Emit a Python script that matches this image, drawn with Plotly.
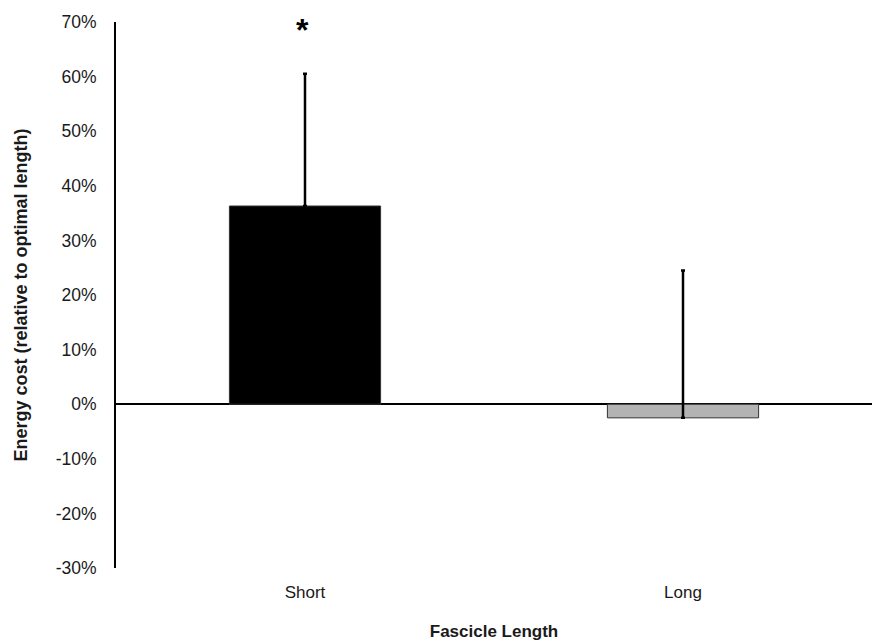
import plotly.graph_objects as go

categories = ["Short", "Long"]
values = [36.3, -2.5]
err_plus = [24.2, 27.0]
err_minus = [0, 0]
colors = ["#000000", "#b3b3b3"]
y_ticks = [-30, -20, -10, 0, 10, 20, 30, 40, 50, 60, 70]
y_ticklabels = [f"{v}%" for v in y_ticks]

fig = go.Figure()
fig.add_trace(go.Bar(
    x=categories, y=values, width=0.4,
    marker=dict(color=colors, line=dict(color="#333333", width=1)),
    error_y=dict(type="data", symmetric=False, array=err_plus, arrayminus=err_minus,
                 color="black", thickness=2.5, width=2),
))
fig.add_annotation(x="Short", y=68.5, text="<b>*</b>", showarrow=False,
                   font=dict(size=32, color="black", family="Liberation Sans"), xshift=-3)

fig.update_layout(
    width=872, height=641,
    margin=dict(l=116, r=0, t=22, b=73),
    plot_bgcolor="white", paper_bgcolor="white",
    showlegend=False,
    font=dict(family="Liberation Sans, Arial", size=18, color="#1a1a1a"),
    xaxis=dict(
        showline=False, showgrid=False, zeroline=False,
        ticks="outside", ticklen=9, tickcolor="rgba(0,0,0,0)",
        tickfont=dict(size=17),
        title=dict(text="<b>Fascicle Length</b>", font=dict(size=17), standoff=24),
        range=[-0.5, 1.5],
    ),
    yaxis=dict(
        range=[-30, 70], tickvals=y_ticks, ticktext=y_ticklabels,
        showline=True, linecolor="black", linewidth=2,
        showgrid=False, zeroline=True, zerolinecolor="black", zerolinewidth=2,
        ticks="outside", ticklen=14, tickcolor="rgba(0,0,0,0)",
        tickfont=dict(size=17.5),
        title=dict(text="<b>Energy cost (relative to optimal length)</b>", font=dict(size=18), standoff=23),
    ),
)
fig.write_html("out.html")
